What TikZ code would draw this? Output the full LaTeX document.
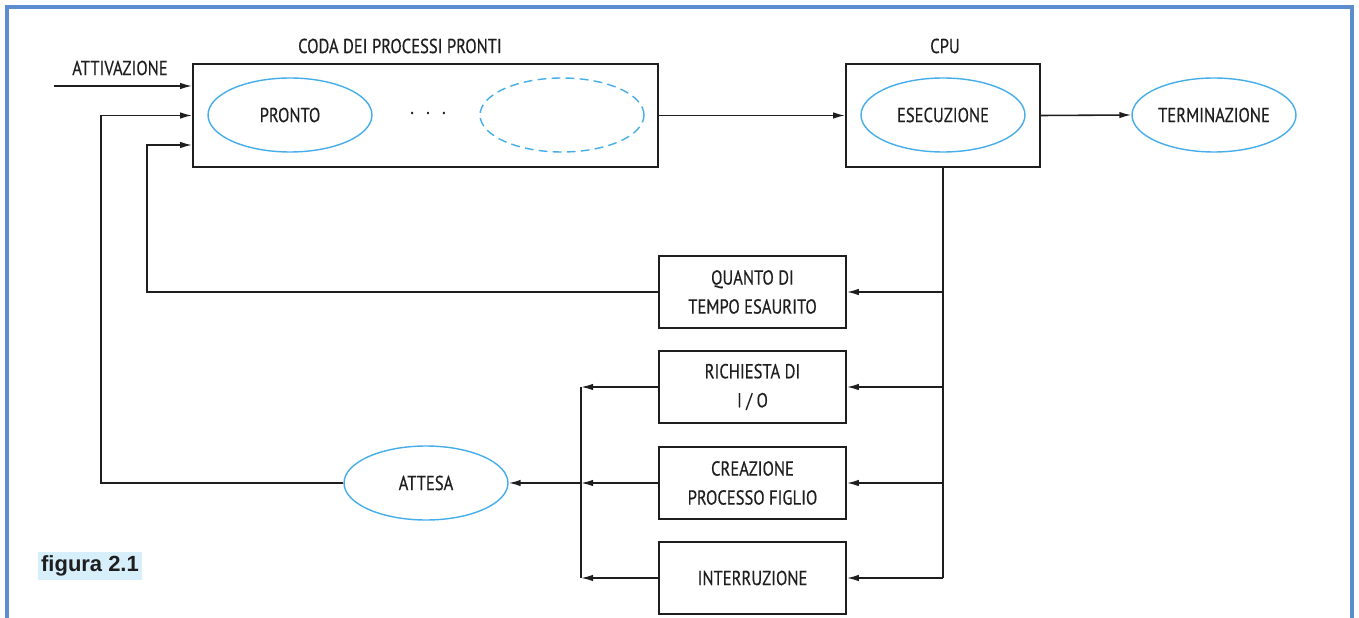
\documentclass[tikz,border=0pt]{standalone}
\usepackage{fontspec}
\usepackage{tikz}
\usetikzlibrary{positioning,arrows.meta,shapes.geometric}

\newfontfamily\schemafont[FakeStretch=0.82,FakeBold=0.4]{PT Sans}
\newfontfamily\didafont{Liberation Sans}

\definecolor{celeste}{HTML}{45AEEA}
\definecolor{cornice}{HTML}{5B8DD0}
\definecolor{fondodida}{HTML}{D6EFFB}
\definecolor{inchiostro}{HTML}{1E1E1E}

\begin{document}
\begin{tikzpicture}[x=0.02cm, y=-0.02cm,
    every node/.style={font=\schemafont\fontsize{11.5}{16.5}\selectfont, text=inchiostro},
    blocco/.style={draw=inchiostro, line width=1pt, minimum width=3.74cm, minimum height=1.44cm, align=center},
    stato/.style={draw=celeste, line width=0.8pt, ellipse, inner sep=0pt, minimum width=3.28cm, minimum height=1.48cm},
    freccia/.style={draw=inchiostro, line width=0.9pt, -{Latex[length=2.4mm,width=1.3mm]}},
    linea/.style={draw=inchiostro, line width=0.9pt}]

    \useasboundingbox (0,0) rectangle (1359,618);

    % frame
    \draw[cornice, line width=2.4pt] (7,618) -- (7,7) -- (1352,7) -- (1352,618);

    % Ready queue
    \node[draw=inchiostro, line width=1pt, minimum width=9.3cm, minimum height=2.06cm] (coda) at (425.5,115.5) {};
    \node (titcoda) at (400,46) {CODA DEI PROCESSI PRONTI};
    \node[stato] (pronto) at (290,115) {PRONTO};
    \node (puntini) at (428,113) {.\hspace{7pt}.\hspace{7pt}.};
    \node[stato, dashed, dash pattern=on 5pt off 3pt] (libero) at (562,115) {};

    % CPU
    \node[draw=inchiostro, line width=1pt, minimum width=3.88cm, minimum height=2.06cm] (cpu) at (943,115.5) {};
    \node (titcpu) at (945,46) {CPU};
    \node[stato] (esecuzione) at (943,115) {ESECUZIONE};
    \node[stato] (terminazione) at (1214,115) {TERMINAZIONE};

    % Events leaving the CPU
    \node[blocco] (quanto) at (752.5,292) {QUANTO DI\\TEMPO ESAURITO};
    \node[blocco] (richiesta) at (752.5,387) {RICHIESTA DI\\I / O};
    \node[blocco] (creazione) at (752.5,483) {CREAZIONE\\PROCESSO FIGLIO};
    \node[blocco] (interruzione) at (752.5,578) {INTERRUZIONE};

    % Waiting state
    \node[stato] (attesa) at (426,483) {ATTESA};

    \node[font=\didafont\bfseries\fontsize{12.5}{14}\selectfont, fill=fondodida, inner sep=2pt] (figura) at (90,566) {figura 2.1};

    % Activation
    \node (attivazione) at (120,68) {ATTIVAZIONE};
    \coordinate (ingresso) at (54,86);
    \draw[freccia] (ingresso) -- (ingresso -| coda.west);

    \draw[freccia] (coda.east) -- (cpu.west);
    \draw[freccia] (cpu.east) -- (terminazione.west);

    % CPU exits
    \draw[linea] (cpu.south) -- (cpu.south |- interruzione.east);
    \draw[freccia] (cpu.south |- quanto.east) -- (quanto.east);
    \draw[freccia] (cpu.south |- richiesta.east) -- (richiesta.east);
    \draw[freccia] (cpu.south |- creazione.east) -- (creazione.east);
    \draw[freccia] (cpu.south |- interruzione.east) -- (interruzione.east);

    % Back to the ready queue after the quantum
    \coordinate (rientro) at (147,145);
    \draw[freccia] (quanto.west) -| (rientro) -- (rientro -| coda.west);

    % Towards the waiting state
    \coordinate (raccolta) at (581,483);
    \draw[linea] (richiesta.west -| raccolta) -- (interruzione.west -| raccolta);
    \draw[freccia] (richiesta.west) -- (richiesta.west -| raccolta);
    \draw[freccia] (creazione.west) -- (raccolta);
    \draw[freccia] (interruzione.west) -- (interruzione.west -| raccolta);
    \draw[freccia] (raccolta) -- (attesa.east);

    % Waiting done
    \coordinate (risveglio) at (101,115.5);
    \draw[freccia] (attesa.west) -| (risveglio) -- (risveglio -| coda.west);

\end{tikzpicture}
\end{document}
